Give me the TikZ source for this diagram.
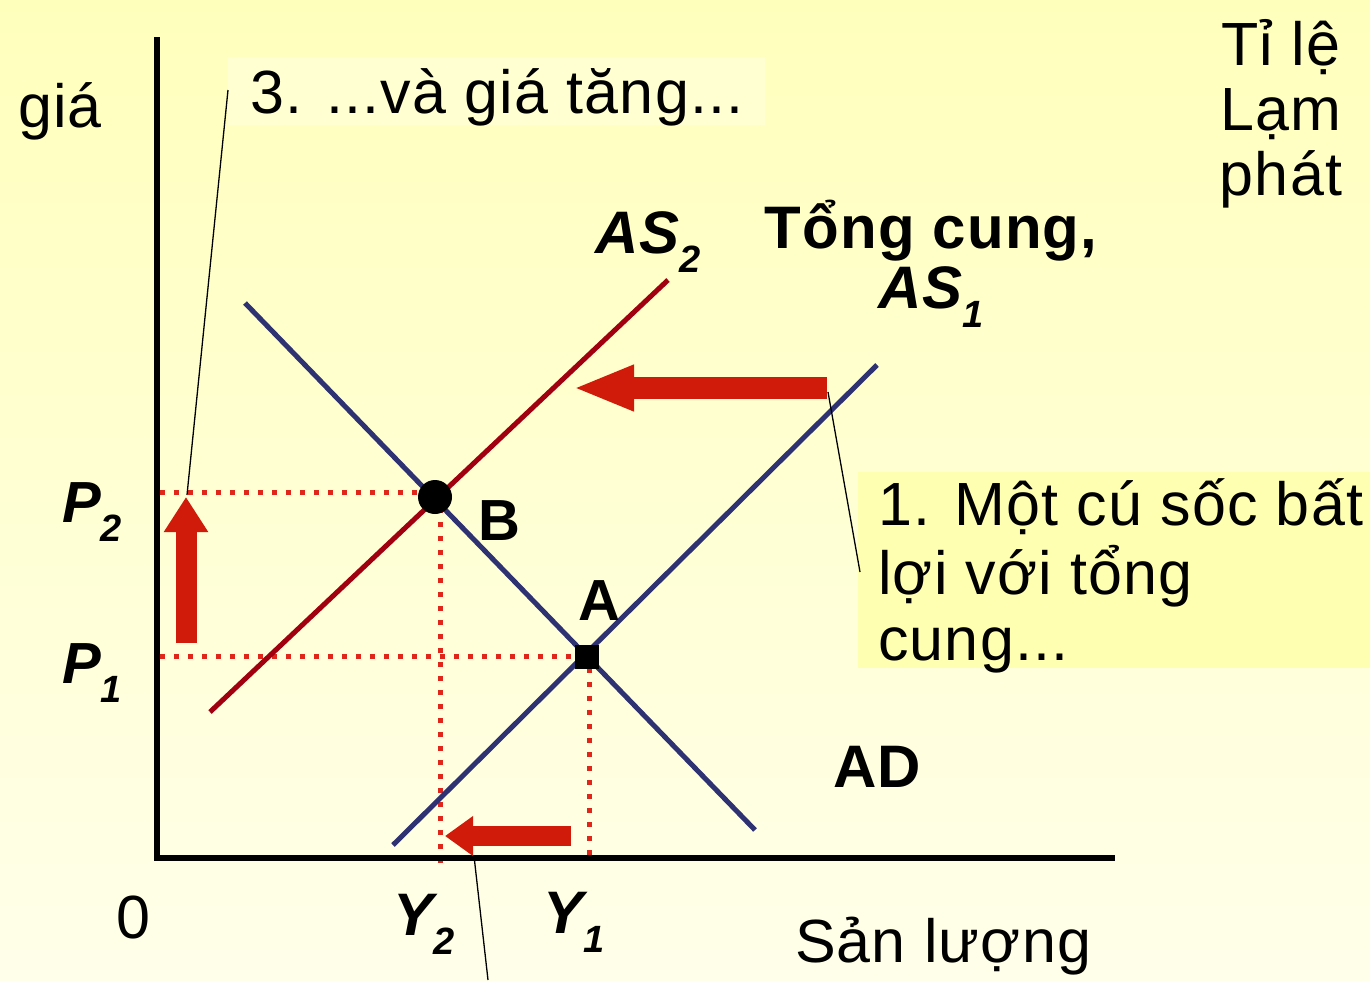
\documentclass[tikz,border=0pt]{standalone}
\usepackage{fontspec}
\setmainfont[LetterSpace=2]{Liberation Sans}
\usetikzlibrary{arrows.meta}
\definecolor{bgtop}{HTML}{FFFFBC}
\definecolor{bgbot}{HTML}{FFFFEA}
\definecolor{navy}{HTML}{2E3172}
\definecolor{asred}{HTML}{A0000F}
\definecolor{arrred}{HTML}{D01A0A}
\definecolor{dotred}{HTML}{E0261A}
\definecolor{boxyellow}{HTML}{FFFFB2}
\definecolor{boxlight}{HTML}{FFFFD2}
\newcommand\regsz{\fontsize{61}{66}\selectfont}
\newcommand\boldsz{\fontsize{60}{60}\selectfont\bfseries}
\newcommand\mysubs[1]{\raisebox{-0.33em}{\fontsize{38}{38}\selectfont\bfseries\itshape #1}}
\newcommand\mystackc[1]{\begin{tabular}[t]{@{}c@{}}#1\end{tabular}}
\newcommand\mystackl[1]{\begin{tabular}[t]{@{}l@{}}#1\end{tabular}}
\tikzset{
  txt/.style={inner sep=0pt, outer sep=0pt, text=black},
  curveblue/.style={navy, line width=5pt},
  curvered/.style={asred, line width=5pt},
  axisline/.style={black, line width=6.5pt},
  reddots/.style={dotred, line width=5pt, dash pattern=on 5pt off 9pt},
  shiftarrow/.style={arrred, line cap=butt},
  callline/.style={black, line width=1.3pt},
}
\begin{document}
\begin{tikzpicture}[x=1pt,y=-1pt]
\useasboundingbox (0,0) rectangle (1370,980);
\shade[top color=bgtop, bottom color=bgbot] (0,0) rectangle (1370,980);
% callout boxes
\fill[boxlight] (228,57) rectangle (765,125);
\fill[boxyellow] (858,472) rectangle (1370,668);

% coordinates
\coordinate (origin) at (157,858);
\coordinate (ytop) at (157,37);
\coordinate (xend) at (1115,858);
\coordinate (AD1) at (245,303);
\coordinate (AD2) at (755,830);
\coordinate (AS1a) at (393,845);
\coordinate (AS1b) at (877,365);
\coordinate (AS2a) at (210,712);
\coordinate (AS2b) at (668,280);

% dotted guides
\draw[reddots] (160,492) -- (420,492);
\draw[reddots] (160,656) -- (578,656);
\draw[reddots] (440,508) -- (440,870);
\draw[reddots] (589,668) -- (589,856);

% curves
\draw[curvered] (AS2a) -- (AS2b);
\draw[curveblue] (AS1a) -- (AS1b);
\draw[curveblue] (AD1) -- (AD2);

% axes
\draw[axisline] (ytop) -- (origin) -- (xend);

% equilibrium points
\node[circle, fill=black, minimum size=34pt, inner sep=0pt] (B) at (435,497) {};
\node[rectangle, fill=black, minimum size=24pt, inner sep=0pt] (A) at (587,657) {};

% shift arrows
\coordinate (s1a) at (827,388);
\coordinate (s1b) at (573,388);
\coordinate (s2a) at (571,836);
\coordinate (s2b) at (445,836);
\coordinate (s3a) at (186,643);
\coordinate (s3b) at (186,497);
\draw[shiftarrow, line width=22pt, -{Triangle[length=61pt, width=42pt]}] (s1a) -- (s1b);
\draw[shiftarrow, line width=20pt, -{Triangle[length=28pt, width=38pt]}] (s2a) -- (s2b);
\draw[shiftarrow, line width=21pt, -{Triangle[length=35pt, width=42pt]}] (s3a) -- (s3b);

% callout lines
\coordinate (c3p) at (228,90);
\coordinate (c1p) at (860,572);
\coordinate (c2p) at (488,980);
\coordinate (s1t) at (828,392);
\coordinate (s2t) at (474,856);
\coordinate (s3t) at (187,495);
\draw[callline] (c3p) -- (s3t);
\draw[callline] (s1t) -- (c1p);
\draw[callline] (s2t) -- (c2p);

% texts
\node[txt, anchor=base west] (gia) at (18,127) {\regsz giá};
\node[txt, anchor=base west] (note3) at (250,113) {\regsz 3. ...và giá tăng...};
\node[txt, anchor=base] (lamphat) at (1281,65) {\fontsize{61}{65}\selectfont\mystackc{Tỉ lệ\\Lạm\\phát}};
\node[txt, anchor=base west] (as2) at (595,253) {\boldsz\itshape AS\mysubs{2}};
\node[txt, anchor=base] (as1) at (931,248) {\boldsz\mystackc{Tổng cung,\\\itshape AS\mysubs{1}}};
\node[txt, anchor=base west] (note1) at (878,525) {\regsz\mystackl{1. Một cú sốc bất\\lợi với tổng\\cung...}};
\node[txt, anchor=base west] (lblB) at (478,540) {\fontsize{58}{58}\selectfont\bfseries B};
\node[txt, anchor=base west] (lblA) at (578,620) {\fontsize{58}{58}\selectfont\bfseries A};
\node[txt, anchor=base west] (lblAD) at (833,787) {\boldsz AD};
\node[txt, anchor=base west] (p2) at (62,522) {\fontsize{58}{58}\selectfont\bfseries\itshape P\mysubs{2}};
\node[txt, anchor=base west] (p1) at (62,683) {\fontsize{58}{58}\selectfont\bfseries\itshape P\mysubs{1}};
\node[txt, anchor=base west] (zero) at (116,938) {\regsz 0};
\node[txt, anchor=base west] (y2) at (393,935) {\fontsize{60}{60}\selectfont\bfseries\itshape Y\mysubs{2}};
\node[txt, anchor=base west] (y1) at (543,933) {\fontsize{60}{60}\selectfont\bfseries\itshape Y\mysubs{1}};
\node[txt, anchor=base west] (sanluong) at (795,962) {\regsz Sản lượng};
\end{tikzpicture}
\end{document}
